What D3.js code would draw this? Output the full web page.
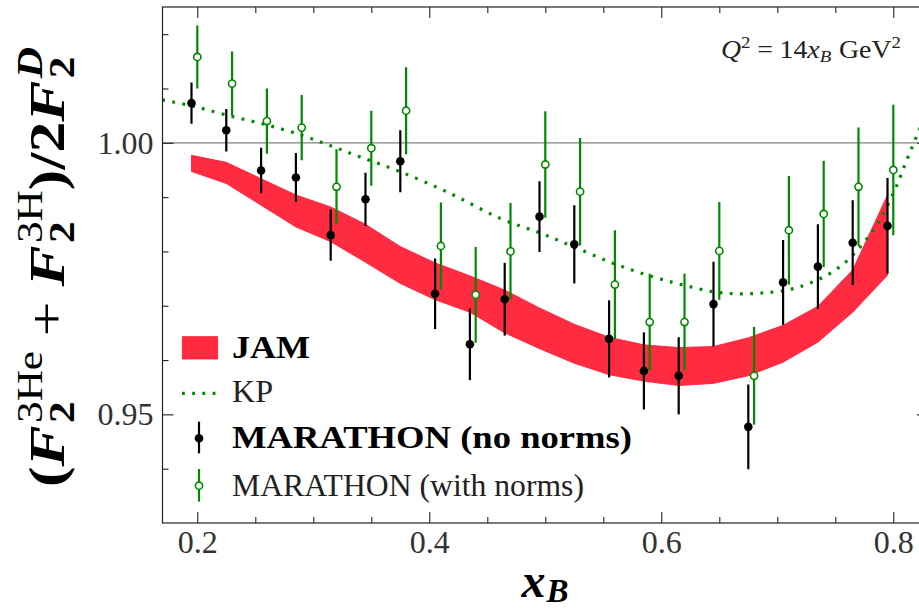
<!DOCTYPE html>
<html><head><meta charset="utf-8">
<script src="https://cdn.jsdelivr.net/npm/d3@7"></script>
<style>body{margin:0;background:#fff}svg{display:block}</style>
</head><body><svg id="c" width="919" height="610"></svg>
<script>
// ---- data ----
const blackX   = [0.195,0.225,0.255,0.285,0.315,0.345,0.375,0.405,0.435,0.465,0.495,0.525,0.555,0.585,0.615,0.645,0.675,0.705,0.735,0.765,0.795];
const blackY   = [1.0073,1.0023,0.9949,0.9936,0.9830,0.9896,0.9966,0.9722,0.9629,0.9712,0.9864,0.9813,0.9639,0.9580,0.9571,0.9703,0.9477,0.9743,0.9772,0.9816,0.9847];
const blackErr = [0.0038,0.0039,0.0042,0.0045,0.0047,0.0049,0.0057,0.0065,0.0066,0.0067,0.0065,0.0072,0.0071,0.0071,0.0071,0.0078,0.0078,0.0078,0.0078,0.0078,0.0088];
const greenX   = [0.200,0.230,0.260,0.290,0.320,0.350,0.380,0.410,0.440,0.470,0.500,0.530,0.560,0.590,0.620,0.650,0.680,0.710,0.740,0.770,0.800];
const greenY   = [1.0158,1.0109,1.0040,1.0028,0.9919,0.9990,1.0059,0.9810,0.9720,0.9800,0.9960,0.9910,0.9739,0.9670,0.9670,0.9801,0.9571,0.9839,0.9869,0.9919,0.9950];
const greenErr = [0.0058,0.0059,0.0060,0.0060,0.0069,0.0069,0.0080,0.0080,0.0088,0.0089,0.0098,0.0099,0.0100,0.0089,0.0089,0.0090,0.0090,0.0100,0.0098,0.0109,0.0120];
const kpX = [0.1698,0.1952,0.2253,0.2598,0.2900,0.3144,0.3403,0.3747,0.4178,0.4609,0.4954,0.5241,0.5586,0.5903,0.6190,0.6506,0.6842,0.7196,0.7541,0.7828,0.8000,0.8116,0.8216,0.8300];
const kpY = [1.0079,1.0068,1.0051,1.0033,1.0014,0.9995,0.9974,0.9947,0.9907,0.9861,0.9834,0.9809,0.9778,0.9755,0.9738,0.9724,0.9723,0.9735,0.9772,0.9839,0.9907,0.9968,1.0020,1.0060];
const jamX  = blackX;
const jamHi = [0.9977,0.9964,0.9934,0.9904,0.9882,0.9850,0.9809,0.9779,0.9755,0.9729,0.9696,0.9666,0.9642,0.9628,0.9623,0.9625,0.9641,0.9664,0.9699,0.9766,0.9904];
const jamLo = [0.9947,0.9925,0.9885,0.9845,0.9818,0.9780,0.9741,0.9711,0.9688,0.9650,0.9621,0.9594,0.9573,0.9561,0.9553,0.9557,0.9571,0.9596,0.9633,0.9688,0.9756];
const xMajorTicks = [0.2,0.4,0.6,0.8];
const xTickLabels = ["0.2","0.4","0.6","0.8"];
const xMinorTicks = [0.25,0.3,0.35,0.45,0.5,0.55,0.65,0.7,0.75];
const yMajorTicks = [0.95,1.00];
const yTickLabels = ["0.95","1.00"];
const yMinorTicks = [0.94,0.96,0.97,0.98,0.99,1.01,1.02];
const legendLabels = ["JAM","KP","MARATHON (no norms)","MARATHON (with norms)"];

// ---- setup ----
const W=919,H=610;
const svg=d3.select("#c");
const m={l:162.5,r:928.1,t:7,b:523};
const x=d3.scaleLinear().domain([0.17,0.83]).range([m.l,m.r]);
const y=d3.scaleLinear().domain([0.93,1.025]).range([m.b,m.t]);
const SERIF="'Liberation Serif','Times New Roman',serif";
const RED="#ff2b40", GREEN="#008a00";

svg.append("rect").attr("width",W).attr("height",H).attr("fill","#fff");
svg.append("clipPath").attr("id","pc").append("rect")
  .attr("x",m.l).attr("y",m.t).attr("width",m.r-m.l).attr("height",m.b-m.t);
const plot=svg.append("g").attr("clip-path","url(#pc)");

// reference line y=1
plot.append("line").attr("x1",m.l).attr("x2",m.r).attr("y1",y(1)).attr("y2",y(1))
  .attr("stroke","#808080").attr("stroke-width",1.3);

// JAM band
const area=d3.area().x((d,i)=>x(jamX[i])).y0((d,i)=>y(jamLo[i])).y1((d,i)=>y(jamHi[i]));
plot.append("path").datum(jamX).attr("d",area).attr("fill",RED).attr("stroke","#ff1a35").attr("stroke-width",0.8);

// KP
const kpLine=d3.line().x((d,i)=>x(kpX[i])).y((d,i)=>y(kpY[i])).curve(d3.curveCatmullRom);
plot.append("path").datum(kpX).attr("d",kpLine).attr("fill","none").attr("stroke",GREEN)
  .attr("stroke-width",3.2).attr("stroke-dasharray","2.8,7.4").attr("stroke-linecap","butt");

// black points
const bg=plot.append("g");
blackX.forEach((v,i)=>{
  bg.append("line").attr("x1",x(v)).attr("x2",x(v)).attr("y1",y(blackY[i]-blackErr[i])).attr("y2",y(blackY[i]+blackErr[i]))
    .attr("stroke","#000").attr("stroke-width",2.2);
  bg.append("circle").attr("cx",x(v)).attr("cy",y(blackY[i])).attr("r",4.3).attr("fill","#000");
});
// green points
const gg=plot.append("g");
greenX.forEach((v,i)=>{
  gg.append("line").attr("x1",x(v)).attr("x2",x(v)).attr("y1",y(greenY[i]-greenErr[i])).attr("y2",y(greenY[i]+greenErr[i]))
    .attr("stroke",GREEN).attr("stroke-width",2.2);
  gg.append("circle").attr("cx",x(v)).attr("cy",y(greenY[i])).attr("r",3.6).attr("fill","#fff").attr("stroke",GREEN).attr("stroke-width",1.6);
});

// ---- axes ----
function styleAxis(g){
  g.select(".domain").remove();
  g.selectAll(".tick line").attr("stroke","#222").attr("stroke-width",1.1);
  g.selectAll(".tick text").attr("font-family",SERIF).attr("font-size",32).attr("fill","#333");
}
svg.append("g").attr("transform",`translate(0,${m.b})`)
  .call(d3.axisBottom(x).tickValues(xMajorTicks).tickSize(-11).tickPadding(7).tickFormat((d,i)=>xTickLabels[i])).call(styleAxis);
svg.append("g").attr("transform",`translate(0,${m.b})`)
  .call(d3.axisBottom(x).tickValues(xMinorTicks).tickSize(-6).tickFormat("")).call(styleAxis);
svg.append("g").attr("transform",`translate(0,${m.t})`)
  .call(d3.axisTop(x).tickValues(xMajorTicks).tickSize(-11).tickFormat("")).call(styleAxis);
svg.append("g").attr("transform",`translate(0,${m.t})`)
  .call(d3.axisTop(x).tickValues(xMinorTicks).tickSize(-6).tickFormat("")).call(styleAxis);
svg.append("g").attr("transform",`translate(${m.l},0)`)
  .call(d3.axisLeft(y).tickValues(yMajorTicks).tickSize(-11).tickPadding(9).tickFormat((d,i)=>yTickLabels[i])).call(styleAxis);
svg.append("g").attr("transform",`translate(${m.l},0)`)
  .call(d3.axisLeft(y).tickValues(yMinorTicks).tickSize(-6).tickFormat("")).call(styleAxis);
svg.append("g").attr("transform",`translate(${m.r},0)`)
  .call(d3.axisRight(y).tickValues(yMajorTicks).tickSize(-11).tickFormat("")).call(styleAxis);
svg.append("g").attr("transform",`translate(${m.r},0)`)
  .call(d3.axisRight(y).tickValues(yMinorTicks).tickSize(-6).tickFormat("")).call(styleAxis);
svg.append("rect").attr("x",m.l).attr("y",m.t).attr("width",m.r-m.l).attr("height",m.b-m.t)
  .attr("fill","none").attr("stroke","#222").attr("stroke-width",1.2);

// ---- math text helper ----
function mathRun(g, pieces){
  let pos=0, lastStart=0;
  pieces.forEach(p=>{
    if(p.gap){pos+=p.gap;return;}
    const x0=p.stack?lastStart:pos;
    const el=g.append("text").attr("x",x0).attr("y",p.dy||0)
      .attr("font-family",SERIF).attr("font-size",p.fs)
      .attr("font-weight",p.b?"bold":"normal").attr("font-style",p.i?"italic":"normal")
      .attr("fill",p.c||"#000").text(p.t);
    const w=el.node().getComputedTextLength();
    if(p.stack){pos=Math.max(pos,x0+w);} else {lastStart=x0; pos=x0+w;}
  });
  return pos;
}

// y label
{
  const outer=svg.append("g");
  const inner=outer.append("g");
  const F=50,S=35;
  const wdt=mathRun(inner,[
    {t:"(",fs:F,b:1},
    {t:"F",fs:F,b:1,i:1},{gap:2},
    {t:"2",fs:S,b:1,dy:10},{t:"3He",fs:S,dy:-22,stack:1},
    {gap:12},{t:"+",fs:F},{gap:12},
    {t:"F",fs:F,b:1,i:1},{gap:2},
    {t:"2",fs:S,b:1,dy:10},{t:"3H",fs:S,dy:-22,stack:1},
    {t:")",fs:F,b:1},{t:"/",fs:F,b:1},{t:"2",fs:F,b:1},
    {t:"F",fs:F,b:1,i:1},{gap:2},
    {t:"2",fs:S,b:1,dy:10},{t:"D",fs:S,b:1,i:1,dy:-22,stack:1}
  ]);
  const s=440/wdt;
  outer.attr("transform",`translate(64,267) rotate(-90) scale(${s},1) translate(${-wdt/2},0)`);
}
// x label
{
  const g=svg.append("g");
  const wdt=mathRun(g,[{t:"x",fs:48,b:1,i:1},{gap:1},{t:"B",fs:33,b:1,i:1,dy:5}]);
  g.attr("transform",`translate(${545-wdt/2},597)`);
}
// Q^2 annotation
{
  const g=svg.append("g");
  const wdt=mathRun(g,[
    {t:"Q",fs:25,i:1,c:"#222"},{t:"2",fs:17,dy:-10,c:"#222"},{gap:6},{t:"=",fs:25,c:"#222"},{gap:6},
    {t:"14",fs:25,c:"#222"},{t:"x",fs:25,i:1,c:"#222"},{t:"B",fs:17,i:1,dy:4,c:"#222"},{gap:7},
    {t:"GeV",fs:25,c:"#222"},{t:"2",fs:17,dy:-10,c:"#222"}
  ]);
  g.attr("transform",`translate(721,58) scale(${180/wdt},1)`);
}

// ---- legend ----
const lg=svg.append("g");
lg.append("rect").attr("x",182.3).attr("y",336.7).attr("width",35.4).attr("height",22.3)
  .attr("fill",RED).attr("stroke","#ff1a35").attr("stroke-width",0.8);
lg.append("line").attr("x1",182).attr("x2",218).attr("y1",393.3).attr("y2",393.3)
  .attr("stroke",GREEN).attr("stroke-width",3.2).attr("stroke-dasharray","2.8,7.4");
lg.append("line").attr("x1",199).attr("x2",199).attr("y1",421.7).attr("y2",453.3).attr("stroke","#000").attr("stroke-width",2.2);
lg.append("circle").attr("cx",199).attr("cy",438.3).attr("r",4.3).attr("fill","#000");
lg.append("line").attr("x1",199).attr("x2",199).attr("y1",469).attr("y2",501.7).attr("stroke",GREEN).attr("stroke-width",2.2);
lg.append("circle").attr("cx",199).attr("cy",485.7).attr("r",3.6).attr("fill","#fff").attr("stroke",GREEN).attr("stroke-width",1.6);
const legSpec=[{y:358,b:1,w:78},{y:402.3,b:0,w:41},{y:447.5,b:1,w:400},{y:496,b:0,w:352}];
legendLabels.forEach((t,i)=>{
  lg.append("text").attr("x",232).attr("y",legSpec[i].y).attr("font-family",SERIF).attr("font-size",31)
    .attr("font-weight",legSpec[i].b?"bold":"normal").attr("fill",legSpec[i].b?"#000":"#222")
    .attr("textLength",legSpec[i].w).attr("lengthAdjust","spacingAndGlyphs").text(t);
});
</script></body></html>
